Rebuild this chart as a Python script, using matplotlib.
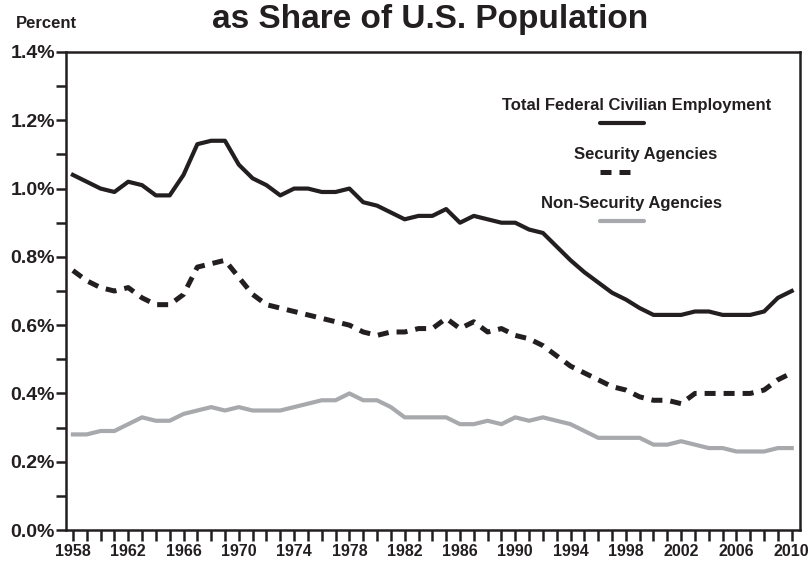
import matplotlib
matplotlib.use("Agg")
import matplotlib.pyplot as plt
from matplotlib.lines import Line2D
from matplotlib.ticker import MultipleLocator, FuncFormatter

plt.rcParams['font.family'] = ['Liberation Sans', 'DejaVu Sans']
plt.rcParams['font.weight'] = 'bold'

years = list(range(1958, 2011))

total = [1.04, 1.02, 1.00, 0.99, 1.02, 1.01, 0.98, 0.98, 1.04, 1.13,
         1.14, 1.14, 1.07, 1.03, 1.01, 0.98, 1.00, 1.00, 0.99, 0.99,
         1.00, 0.96, 0.95, 0.93, 0.91, 0.92, 0.92, 0.94, 0.90, 0.92,
         0.91, 0.90, 0.90, 0.88, 0.87, 0.83, 0.79, 0.755, 0.725, 0.695,
         0.675, 0.65, 0.63, 0.63, 0.63, 0.64, 0.64, 0.63, 0.63, 0.63,
         0.64, 0.68, 0.70]

security = [0.76, 0.73, 0.71, 0.70, 0.71, 0.68, 0.66, 0.66, 0.69, 0.77,
            0.78, 0.79, 0.74, 0.69, 0.66, 0.65, 0.64, 0.63, 0.62, 0.61,
            0.60, 0.58, 0.57, 0.58, 0.58, 0.59, 0.59, 0.62, 0.59, 0.61,
            0.58, 0.59, 0.57, 0.56, 0.54, 0.51, 0.48, 0.46, 0.44, 0.42,
            0.41, 0.39, 0.38, 0.38, 0.37, 0.40, 0.40, 0.40, 0.40, 0.40,
            0.41, 0.44, 0.46]

non_security = [0.28, 0.28, 0.29, 0.29, 0.31, 0.33, 0.32, 0.32, 0.34, 0.35,
                0.36, 0.35, 0.36, 0.35, 0.35, 0.35, 0.36, 0.37, 0.38, 0.38,
                0.40, 0.38, 0.38, 0.36, 0.33, 0.33, 0.33, 0.33, 0.31, 0.31,
                0.32, 0.31, 0.33, 0.32, 0.33, 0.32, 0.31, 0.29, 0.27, 0.27,
                0.27, 0.27, 0.25, 0.25, 0.26, 0.25, 0.24, 0.24, 0.23, 0.23,
                0.23, 0.24, 0.24]

labels = ['Total Federal Civilian Employment', 'Security Agencies', 'Non-Security Agencies']
year_ticks = list(range(1958, 2011, 4))

fig = plt.figure(figsize=(8.09, 5.62), dpi=100)
ax = fig.add_axes([0.0816, 0.0569, 0.9073, 0.8506])

ax.plot(years, total, color='#231f20', lw=3.0)
ax.plot(years, security, color='#231f20', lw=3.6, dashes=(2.2, 1.6))
ax.plot(years, non_security, color='#a7a9ac', lw=3.0)

ax.set_xlim(1957.5, 2010.6)
ax.set_ylim(0, 1.4)

for s in ax.spines.values():
    s.set_linewidth(1.8)
    s.set_color('#231f20')

ax.yaxis.set_major_locator(MultipleLocator(0.2))
ax.yaxis.set_minor_locator(MultipleLocator(0.1))
ax.yaxis.set_major_formatter(FuncFormatter(lambda v, p: '%.1f%%' % v))
ax.set_xticks(year_ticks)
ax.set_xticks(years, minor=True)
ax.tick_params(axis='y', which='both', direction='out', length=7, width=1.8,
               labelsize=14, pad=1, colors='#231f20')
ax.tick_params(axis='x', which='both', direction='out', length=8, width=1.8,
               labelsize=11.5, pad=2, colors='#231f20')

fig.text(0.058, 0.959, 'Percent', fontsize=12, fontweight='bold', ha='center', va='center', color='#231f20')
fig.text(0.532, 0.966, 'as Share of U.S. Population', fontsize=24, fontweight='bold',
         ha='center', va='center', color='#231f20')

# legend: text with line sample below
ax.text(0.777, 0.889, labels[0], transform=ax.transAxes, fontsize=12, ha='center', va='center', color='#231f20')
ax.text(0.790, 0.786, labels[1], transform=ax.transAxes, fontsize=12, ha='center', va='center', color='#231f20')
ax.text(0.770, 0.684, labels[2], transform=ax.transAxes, fontsize=12, ha='center', va='center', color='#231f20')
ax.add_line(Line2D([0.727, 0.787], [0.851, 0.851], transform=ax.transAxes,
                   color='#231f20', lw=3.0, solid_capstyle='round'))
ax.add_line(Line2D([0.727, 0.772], [0.748, 0.748], transform=ax.transAxes,
                   color='#231f20', lw=3.6, dashes=(2.2, 1.6)))
ax.add_line(Line2D([0.727, 0.787], [0.646, 0.646], transform=ax.transAxes,
                   color='#a7a9ac', lw=3.0, solid_capstyle='round'))

plt.savefig('out.png', dpi=100)
